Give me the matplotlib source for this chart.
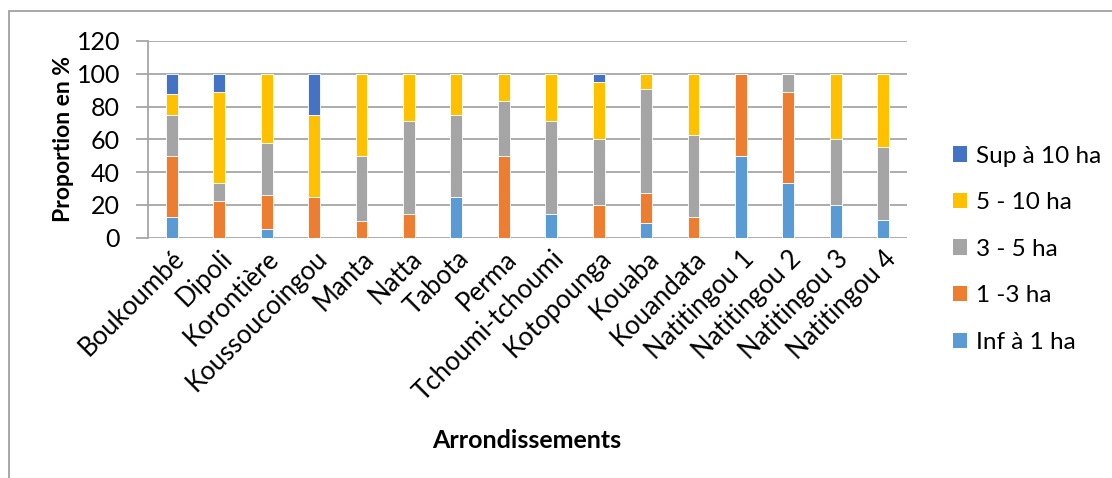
import matplotlib
matplotlib.use("Agg")
import matplotlib.pyplot as plt
import numpy as np
from matplotlib.patches import Rectangle, Patch

categories = ['Boukoumbé', 'Dipoli', 'Korontière', 'Koussoucoingou', 'Manta', 'Natta',
              'Tabota', 'Perma', 'Tchoumi-tchoumi', 'Kotopounga', 'Kouaba', 'Kouandata',
              'Natitingou 1', 'Natitingou 2', 'Natitingou 3', 'Natitingou 4']
inf_1 = [12.5, 0, 5.3, 0, 0, 0, 25, 0, 14.3, 0, 9.1, 0, 50, 33.3, 20, 11.1]
ha_1_3 = [37.5, 22.2, 21.0, 25, 10, 14.3, 0, 50, 0, 20, 18.2, 12.5, 50, 55.6, 0, 0]
ha_3_5 = [25, 11.1, 31.6, 0, 40, 57.1, 50, 33.3, 57.1, 40, 63.6, 50, 0, 11.1, 40, 44.4]
ha_5_10 = [12.5, 55.6, 42.1, 50, 50, 28.6, 25, 16.7, 28.6, 35, 9.1, 37.5, 0, 0, 40, 44.5]
sup_10 = [12.5, 11.1, 0, 25, 0, 0, 0, 0, 0, 5, 0, 0, 0, 0, 0, 0]
series_labels = ['Inf à 1 ha', '1 -3 ha', '3 - 5 ha', '5 - 10 ha', 'Sup à 10 ha']
colors = ['#5B9BD5', '#ED7D31', '#A5A5A5', '#FFC000', '#4472C4']
yticks = [0, 20, 40, 60, 80, 100, 120]

plt.rcParams['font.family'] = ['Lato', 'DejaVu Sans']

W, H = 1112, 478
fig = plt.figure(figsize=(W / 100, H / 100), dpi=100)
fig.patch.set_facecolor('white')
ax = fig.add_axes([148 / W, 1 - 237.7 / H, (907 - 148) / W, (237.7 - 41) / H])

x = np.arange(len(categories))
bottom = np.zeros(len(categories))
series = [inf_1, ha_1_3, ha_3_5, ha_5_10, sup_10]
for vals, lab, col in zip(series, series_labels, colors):
    v = np.array(vals, dtype=float)
    ax.bar(x, v, 0.25, bottom=bottom, color=col, label=lab,
           edgecolor='white', linewidth=0.6, zorder=3)
    bottom += v

ax.set_xlim(-0.5, len(categories) - 0.5)
ax.set_ylim(0, 120)
ax.set_yticks(yticks)
ax.grid(axis='y', color='#A6A6A6', linewidth=1.3, zorder=0)
ax.set_axisbelow(True)
for s in ['top', 'right', 'bottom']:
    ax.spines[s].set_visible(False)
ax.spines['left'].set_color('#A6A6A6')
ax.spines['left'].set_linewidth(1.3)
ax.tick_params(axis='y', length=9, width=1.3, color='#A6A6A6', pad=11, labelsize=18)
ax.tick_params(axis='x', length=0, pad=6)
ax.set_xticks(x)
ax.set_xticklabels(categories, rotation=45, ha='right', va='top',
                   rotation_mode='anchor', fontsize=18.5)

ax.set_ylabel('Proportion en %', fontsize=16.5, fontweight='bold', va='center')
ax.yaxis.set_label_coords((63 - 148) / (907 - 148), 0.5)
fig.text(527 / W, 1 - 440 / H, 'Arrondissements', fontsize=18, fontweight='bold',
         ha='center', va='center')

handles = [Patch(facecolor=c, label=l) for c, l in zip(colors, series_labels)][::-1]
fig.legend(handles=handles, loc='upper left', bbox_to_anchor=(943 / W, 1 - 136 / H),
           frameon=False, fontsize=17.5, handlelength=0.6, handleheight=0.6,
           handletextpad=0.35, labelspacing=1.05, borderaxespad=0)

fig.patches.append(Rectangle((9 / W, -0.1), 1.2, 1 - 11 / H + 0.1,
                             transform=fig.transFigure, fill=False,
                             edgecolor='#A0A0A0', linewidth=1.3))

fig.savefig('out.png', dpi=100)
